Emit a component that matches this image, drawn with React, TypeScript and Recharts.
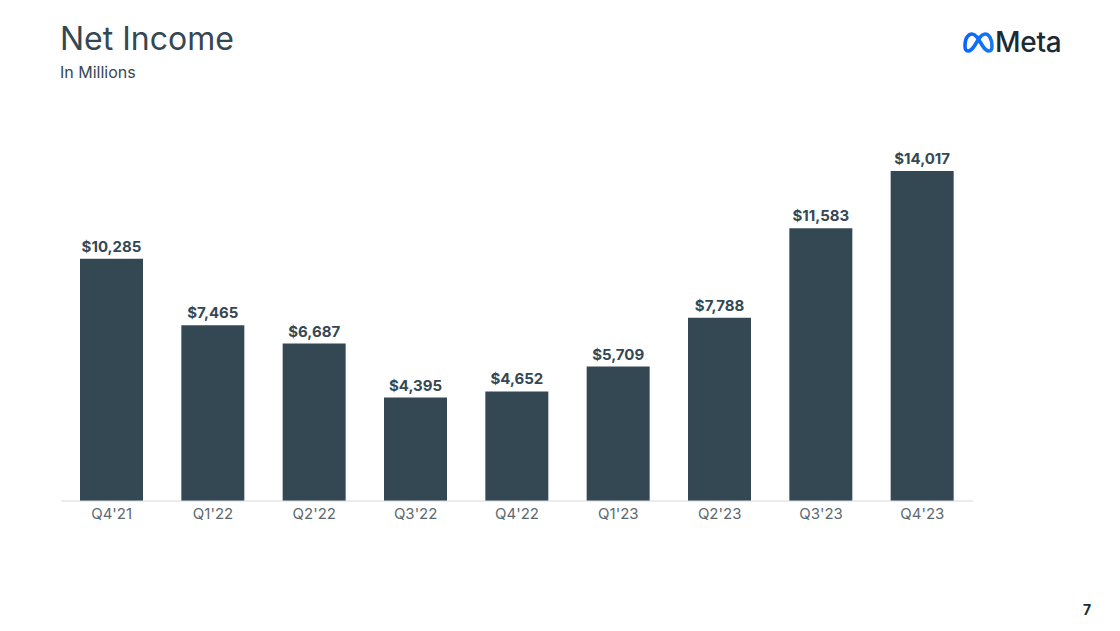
import { BarChart, Bar, XAxis, YAxis, LabelList } from 'recharts';

const quarters = ["Q4'21", "Q1'22", "Q2'22", "Q3'22", "Q4'22", "Q1'23", "Q2'23", "Q3'23", "Q4'23"];
const netIncome = [10285, 7465, 6687, 4395, 4652, 5709, 7788, 11583, 14017];

const chartData = quarters.map((q, i) => ({ name: q, value: netIncome[i] }));

const FONT = 'Inter, "Noto Sans", sans-serif';
const DARK = '#344854';

function MetaLogo() {
  return (
    <div style={{ position: 'absolute', left: 962, top: 25, display: 'flex', alignItems: 'center' }}>
      <svg width="32" height="22" viewBox="0 0 32 22">
        <defs>
          <linearGradient id="metaGrad" x1="0" y1="0" x2="1" y2="0">
            <stop offset="0%" stopColor="#0866ff" />
            <stop offset="100%" stopColor="#1877f2" />
          </linearGradient>
        </defs>
        <path
          d="M3 15 C3 6 7 3 10 3 C14 3 17 9 20 14 C23 19 25 20 27 20 C29 20 30 18 30 15 C30 8 27 3 23 3 C19 3 16 9 13 14 C10 19 8 20 6 20 C4 20 3 18 3 15 Z"
          fill="none"
          stroke="url(#metaGrad)"
          strokeWidth="3.6"
          strokeLinejoin="round"
        />
      </svg>
      <span style={{ fontFamily: FONT, fontSize: 28, color: '#1c2b33', marginLeft: 1, fontWeight: 500, letterSpacing: -0.3 }}>
        Meta
      </span>
    </div>
  );
}

export default function App() {
  return (
    <div style={{ position: 'absolute', left: 0, top: 0, width: 1120, height: 631, background: '#ffffff', overflow: 'hidden' }}>
      <div style={{ position: 'absolute', left: 60, top: 19, fontFamily: FONT, fontSize: 32, color: DARK, fontWeight: 400 }}>
        Net Income
      </div>
      <div style={{ position: 'absolute', left: 60, top: 62, fontFamily: FONT, fontSize: 16, color: DARK }}>
        In Millions
      </div>
      <MetaLogo />
      <div style={{ position: 'absolute', left: 1083, top: 601, fontFamily: FONT, fontSize: 14, fontWeight: 700, color: '#1c2b33' }}>
        7
      </div>
      <div style={{ position: 'absolute', left: 0, top: 0 }}>
        <BarChart
          width={1120}
          height={631}
          data={chartData}
          margin={{ top: 171, left: 61, right: 147, bottom: 100 }}
          barSize={63}
        >
          <XAxis
            dataKey="name"
            height={30}
            axisLine={{ stroke: '#d5d9dc', strokeWidth: 1 }}
            tickLine={false}
            tick={{ fill: '#5c6870', fontSize: 15, fontFamily: FONT }}
            tickMargin={1}
            interval={0}
          />
          <YAxis hide domain={[0, 14017]} />
          <Bar dataKey="value" fill={DARK} isAnimationActive={false}>
            <LabelList
              dataKey="value"
              position="top"
              offset={7}
              formatter={(v: number) => `$${v.toLocaleString('en-US')}`}
              style={{ fill: DARK, fontSize: 15, fontWeight: 700, fontFamily: FONT }}
            />
          </Bar>
        </BarChart>
      </div>
    </div>
  );
}
